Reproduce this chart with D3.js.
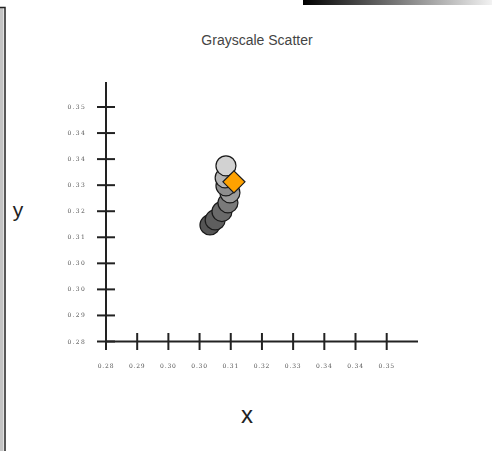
<!DOCTYPE html>
<html>
<head>
<meta charset="utf-8">
<script src="https://cdn.jsdelivr.net/npm/d3@7"></script>
<style>
  body { margin: 0; background: #fff; }
  svg { display: block; }
</style>
</head>
<body>
<div id="chart"></div>
<script>
// data
var xValues = [0.3110, 0.3108, 0.3110, 0.3120, 0.3115, 0.3100, 0.3083, 0.3070];
var yValues = [0.3336, 0.3300, 0.3276, 0.3255, 0.3225, 0.3199, 0.3174, 0.3159];
var grays = ["#d2d2d2", "#b4b4b4", "#8e8e8e", "#9c9c9c", "#7a7a7a", "#6a6a6a", "#5e5e5e", "#555555"];
var markerX = [0.3130];
var markerY = [0.3288];
var xTicks = [0.281, 0.2888, 0.2966, 0.3044, 0.3122, 0.3200, 0.3278, 0.3356, 0.3434, 0.3512];
var yTicks = [0.281, 0.2888, 0.2966, 0.3044, 0.3122, 0.3200, 0.3278, 0.3356, 0.3434, 0.3512];

var width = 498, height = 451;

var svg = d3.select("#chart").append("svg")
	.attr("width", width)
	.attr("height", height);

// gradient strip at the top right
var defs = svg.append("defs");
var grad = defs.append("linearGradient")
	.attr("id", "strip")
	.attr("x1", "0%").attr("x2", "100%");
grad.append("stop").attr("offset", "0%").attr("stop-color", "#000");
grad.append("stop").attr("offset", "100%").attr("stop-color", "#f2f2f2");
defs.append("filter")
	.attr("id", "soft")
	.append("feGaussianBlur").attr("stdDeviation", 0.35);

svg.append("rect")
	.attr("x", 303).attr("y", 0)
	.attr("width", 189).attr("height", 5)
	.style("fill", "url(#strip)");

// left frame edge
svg.append("rect")
	.attr("x", 0).attr("y", 8)
	.attr("width", 3.5).attr("height", height)
	.style("fill", "#c4c4c4");
svg.append("path")
	.attr("d", "M0,7.5H5V" + height)
	.style("fill", "none")
	.style("stroke", "#222")
	.style("stroke-width", 1.5);

var x = d3.scaleLinear().domain([0.281, 0.3512]).range([106, 386.7]);
var y = d3.scaleLinear().domain([0.281, 0.3512]).range([341.5, 107]);

// axes lines
svg.append("line")
	.attr("x1", 106).attr("x2", 106)
	.attr("y1", 82).attr("y2", 342)
	.style("stroke", "#222").style("stroke-width", 2);
svg.append("line")
	.attr("x1", 105).attr("x2", 418)
	.attr("y1", 341.5).attr("y2", 341.5)
	.style("stroke", "#222").style("stroke-width", 2);

// ticks crossing the axes
svg.selectAll(".xtick").data(xTicks).enter().append("line")
	.attr("x1", d => x(d)).attr("x2", d => x(d))
	.attr("y1", 333).attr("y2", 350)
	.style("stroke", "#222").style("stroke-width", 2);
svg.selectAll(".ytick").data(yTicks).enter().append("line")
	.attr("x1", 97).attr("x2", 115)
	.attr("y1", d => y(d)).attr("y2", d => y(d))
	.style("stroke", "#222").style("stroke-width", 2);

var fmt = d3.format(".2f");
svg.selectAll(".xlab").data(xTicks).enter().append("text")
	.attr("x", d => x(d))
	.attr("y", 368)
	.attr("text-anchor", "middle")
	.style("font-family", "DejaVu Serif")
	.style("font-size", "6px")
	.style("letter-spacing", "0.8px")
	.style("fill", "#555")
	.style("filter", "url(#soft)")
	.text(d => fmt(d));
svg.selectAll(".ylab").data(yTicks).enter().append("text")
	.attr("x", 86)
	.attr("y", d => y(d) + 2)
	.attr("text-anchor", "end")
	.style("font-family", "DejaVu Serif")
	.style("font-size", "6px")
	.style("letter-spacing", "1.3px")
	.style("fill", "#555")
	.style("filter", "url(#soft)")
	.text(d => fmt(d));

// title and axis names
svg.append("text")
	.attr("x", 257).attr("y", 45)
	.attr("text-anchor", "middle")
	.style("font-family", "Liberation Sans")
	.style("font-size", "14px")
	.style("fill", "#444")
	.text("Grayscale Scatter");
svg.append("text")
	.attr("x", 18).attr("y", 217)
	.attr("text-anchor", "middle")
	.style("font-family", "Liberation Sans")
	.style("font-size", "21px")
	.style("fill", "#222")
	.text("y");
svg.append("text")
	.attr("x", 247).attr("y", 423)
	.attr("text-anchor", "middle")
	.style("font-family", "Liberation Sans")
	.style("font-size", "24px")
	.style("fill", "#222")
	.text("x");

// points, drawn bottom first so the light one sits on top
var pts = d3.range(xValues.length).map(i => ({x: xValues[i], y: yValues[i], c: grays[i]})).reverse();
svg.selectAll(".pt").data(pts).enter().append("circle")
	.attr("cx", d => x(d.x))
	.attr("cy", d => y(d.y))
	.attr("r", 10)
	.style("fill", d => d.c)
	.style("stroke", "#1a1a1a")
	.style("stroke-width", 1.2);

svg.selectAll(".mk").data(markerX).enter().append("path")
	.attr("transform", (d, i) => "translate(" + x(d) + "," + y(markerY[i]) + ")")
	.attr("d", "M0,-11L11,0L0,11L-11,0Z")
	.style("fill", "#ffa200")
	.style("stroke", "#1a1a1a")
	.style("stroke-width", 1.2);
</script>
</body>
</html>
